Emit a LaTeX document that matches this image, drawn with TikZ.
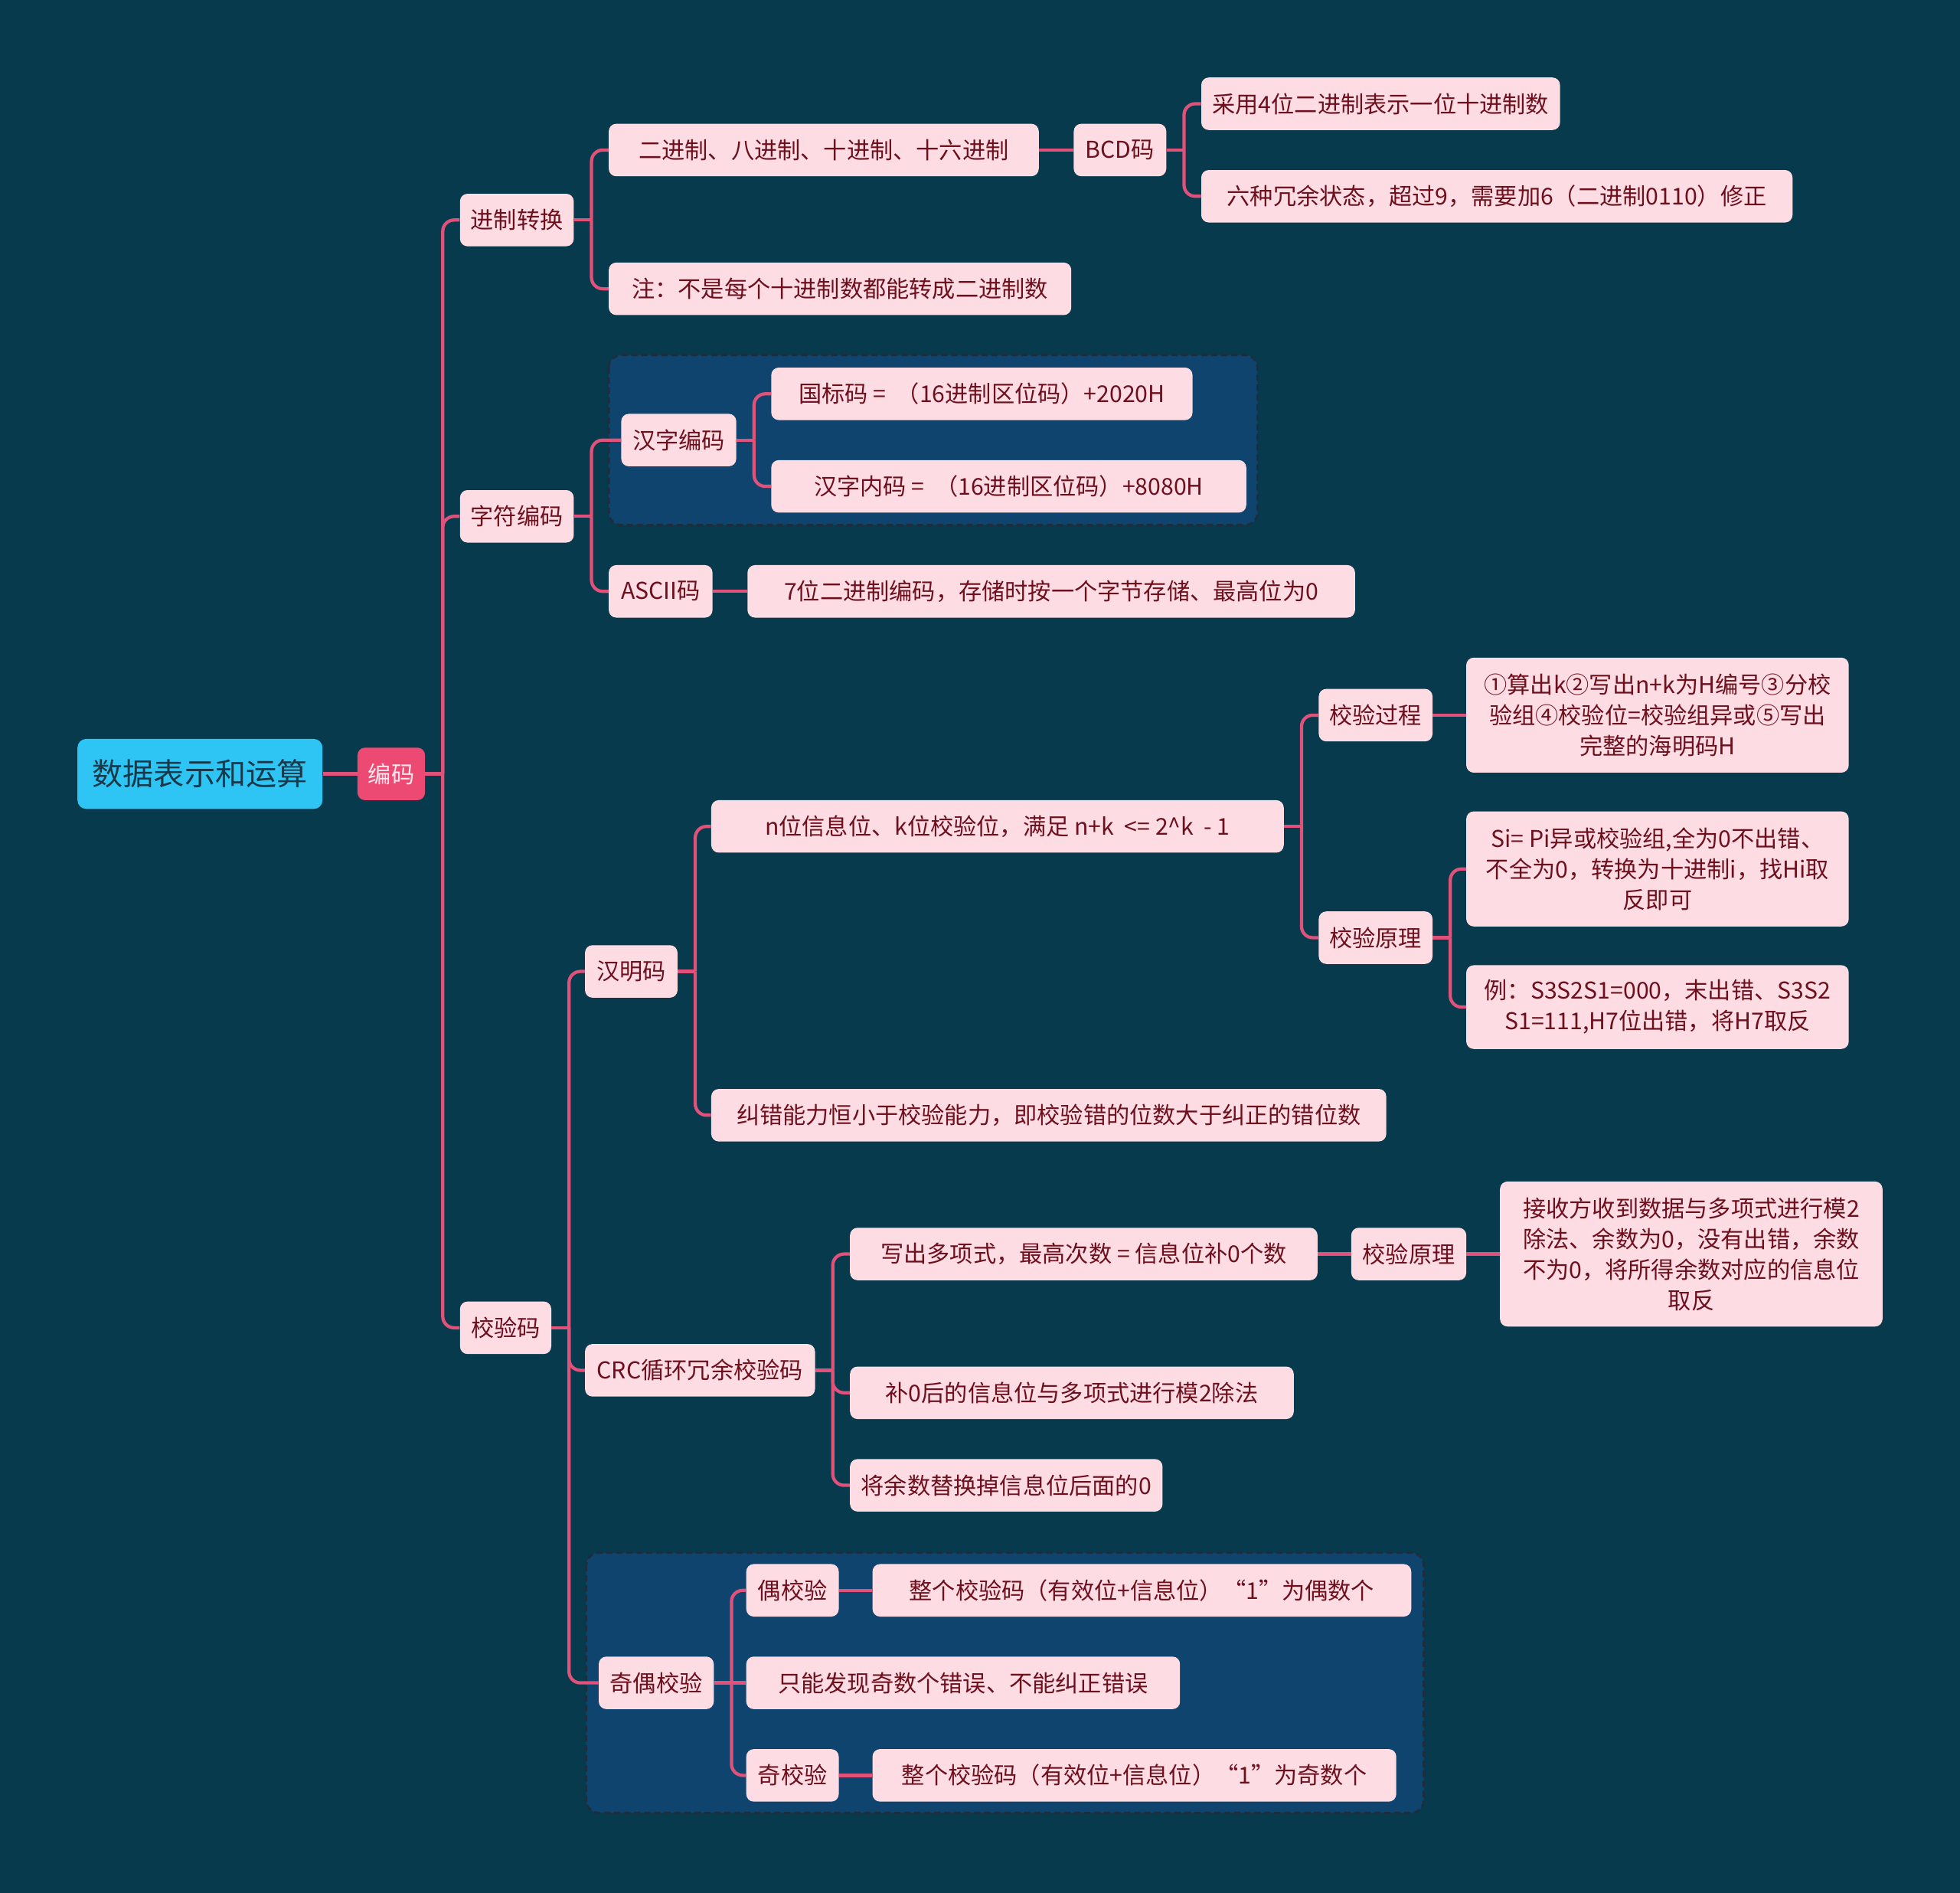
\documentclass[tikz,border=0pt]{standalone}
\usepackage{fontspec}
\setmainfont{Noto Sans CJK SC}
\definecolor{bg}{HTML}{073A4D}
\definecolor{nodefill}{HTML}{FDDDE3}
\definecolor{txt}{HTML}{6E0F1E}
\definecolor{ln}{HTML}{E0527A}
\definecolor{rootfill}{HTML}{2EC5F4}
\definecolor{roottxt}{HTML}{17394A}
\definecolor{lonefill}{HTML}{EC4A73}
\definecolor{lonetxt}{HTML}{FFE8EE}
\definecolor{grpfill}{HTML}{0F446F}
\definecolor{grpline}{HTML}{1C2E3E}
\tikzset{
  box/.style={draw=none, fill=nodefill, text=txt, rounded corners=6pt, minimum height=42pt,
    inner xsep=3pt, inner ysep=2pt, font=\fontsize{18.5}{24.5}\selectfont, align=center},
  rootbox/.style={box, fill=rootfill, text=roottxt, minimum height=56pt, rounded corners=7pt,
    font=\fontsize{24.6}{30}\selectfont},
  lonebox/.style={box, fill=lonefill, text=lonetxt},
  conn/.style={draw=ln, line width=2.6pt},
  elbow/.style={conn, rounded corners=9pt},
  grp/.style={fill=grpfill, draw=grpline, dash pattern=on 5pt off 3pt, line width=1.8pt, rounded corners=10pt},
}
\begin{document}
\begin{tikzpicture}[x=1pt,y=-1pt]
\useasboundingbox (0,0) rectangle (1568,1514);
\fill[bg] (0,0) rectangle (1568,1514);
% groups
\draw[grp] (487,284) rectangle (1006,420);
\draw[grp] (469,1242) rectangle (1139,1450);
% nodes
\node[rootbox, minimum width=196pt] (root) at (160,619) {数据表示和运算};
\node[lonebox, minimum width=54pt] (bm) at (313,619) {编码};
\node[box, minimum width=91pt] (jz) at (413.5,176) {进制转换};
\node[box, minimum width=91pt] (zf) at (413.5,413) {字符编码};
\node[box, minimum width=73pt] (jy) at (404.5,1062) {校验码};
\node[box, minimum width=344pt] (ej) at (659,120) {二进制、八进制、十进制、十六进制};
\node[box, minimum width=370pt] (zhu) at (672,231) {注：不是每个十进制数都能转成二进制数};
\node[box, minimum width=74pt] (bcd) at (896,120) {BCD码};
\node[box, minimum width=287pt] (b1) at (1104.5,83) {采用4位二进制表示一位十进制数};
\node[box, minimum width=473pt] (b2) at (1197.5,157) {六种冗余状态，超过9，需要加6（二进制0110）修正};
\node[box, minimum width=92pt] (hz) at (543,352) {汉字编码};
\node[box, minimum width=83pt] (ascii) at (528.5,473) {ASCII码};
\node[box, minimum width=337pt] (gb) at (785.5,315) {国标码 =\ \ （16进制区位码）+2020H};
\node[box, minimum width=380pt] (nm) at (807,389) {汉字内码 =\ \ （16进制区位码）+8080H};
\node[box, minimum width=486pt] (a7) at (841,473) {7位二进制编码，存储时按一个字节存储、最高位为0};
\node[box, minimum width=74pt] (hm) at (505,777) {汉明码};
\node[box, minimum width=184pt] (crc) at (560,1096) {CRC循环冗余校验码};
\node[box, minimum width=92pt] (jo) at (525,1346) {奇偶校验};
\node[box, minimum width=458pt] (nw) at (798,661) {n位信息位、k位校验位，满足 n+k\ \ <= 2\textasciicircum k\ \ - 1};
\node[box, minimum width=540pt] (jc) at (839,892) {纠错能力恒小于校验能力，即校验错的位数大于纠正的错位数};
\node[box, minimum width=91pt] (gc) at (1100.5,572) {校验过程};
\node[box, minimum width=91pt] (yl) at (1100.5,750) {校验原理};
\node[box, minimum width=306pt, minimum height=92pt] (gcone) at (1326,572) {①算出k②写出n+k为H编号③分校\\验组④校验位=校验组异或⑤写出\\完整的海明码H};
\node[box, minimum width=306pt, minimum height=92pt] (ylone) at (1326,695) {Si= Pi异或校验组,全为0不出错、\\不全为0，转换为十进制i，找Hi取\\反即可};
\node[box, minimum width=306pt, minimum height=67pt] (yltwo) at (1326,805.5) {例：S3S2S1=000，末出错、S3S2\\S1=111,H7位出错，将H7取反};
\node[box, minimum width=374pt] (dx) at (867,1003) {写出多项式，最高次数 = 信息位补0个数};
\node[box, minimum width=355pt] (ctwo) at (857.5,1114) {补0后的信息位与多项式进行模2除法};
\node[box, minimum width=250pt] (cthree) at (805,1188) {将余数替换掉信息位后面的0};
\node[box, minimum width=92pt] (cyl) at (1127,1003) {校验原理};
\node[box, minimum width=306pt, minimum height=116pt] (cylone) at (1353,1003) {接收方收到数据与多项式进行模2\\除法、余数为0，没有出错，余数\\不为0，将所得余数对应的信息位\\取反};
\node[box, minimum width=74pt] (ou) at (634,1272) {偶校验};
\node[box, minimum width=347pt] (zn) at (770.5,1346) {只能发现奇数个错误、不能纠正错误};
\node[box, minimum width=74pt] (ji) at (634,1420) {奇校验};
\node[box, minimum width=431pt] (ouone) at (913.5,1272) {整个校验码（有效位+信息位）“1”为偶数个};
\node[box, minimum width=419pt] (jione) at (907.5,1420) {整个校验码（有效位+信息位）“1”为奇数个};
% connectors
\draw[conn] (root.east) -- (bm.west);
\draw[conn] (bm.east) -- ++(14,0);
\foreach \c in {jz,zf,jy} \draw[elbow] (bm.east) ++(14,0) |- (\c.west);
\draw[conn] (jz.east) -- ++(14,0);
\foreach \c in {ej,zhu} \draw[elbow] (jz.east) ++(14,0) |- (\c.west);
\draw[conn] (ej.east) -- (bcd.west);
\draw[conn] (bcd.east) -- ++(14,0);
\foreach \c in {b1,b2} \draw[elbow] (bcd.east) ++(14,0) |- (\c.west);
\draw[conn] (zf.east) -- ++(14,0);
\foreach \c in {hz,ascii} \draw[elbow] (zf.east) ++(14,0) |- (\c.west);
\draw[conn] (hz.east) -- ++(14,0);
\foreach \c in {gb,nm} \draw[elbow] (hz.east) ++(14,0) |- (\c.west);
\draw[conn] (ascii.east) -- (a7.west);
\draw[conn] (jy.east) -- ++(14,0);
\foreach \c in {hm,crc,jo} \draw[elbow] (jy.east) ++(14,0) |- (\c.west);
\draw[conn] (hm.east) -- ++(14,0);
\foreach \c in {nw,jc} \draw[elbow] (hm.east) ++(14,0) |- (\c.west);
\draw[conn] (nw.east) -- ++(14,0);
\foreach \c in {gc,yl} \draw[elbow] (nw.east) ++(14,0) |- (\c.west);
\draw[conn] (gc.east) -- (gcone.west);
\draw[conn] (yl.east) -- ++(14,0);
\foreach \c in {ylone,yltwo} \draw[elbow] (yl.east) ++(14,0) |- (\c.west);
\draw[conn] (crc.east) -- ++(14,0);
\foreach \c in {dx,ctwo,cthree} \draw[elbow] (crc.east) ++(14,0) |- (\c.west);
\draw[conn] (dx.east) -- (cyl.west);
\draw[conn] (cyl.east) -- (cylone.west);
\draw[conn] (jo.east) -- (zn.west);
\foreach \c in {ou,ji} \draw[elbow] (jo.east) ++(14,0) |- (\c.west);
\draw[conn] (ou.east) -- (ouone.west);
\draw[conn] (ji.east) -- (jione.west);
\end{tikzpicture}
\end{document}
